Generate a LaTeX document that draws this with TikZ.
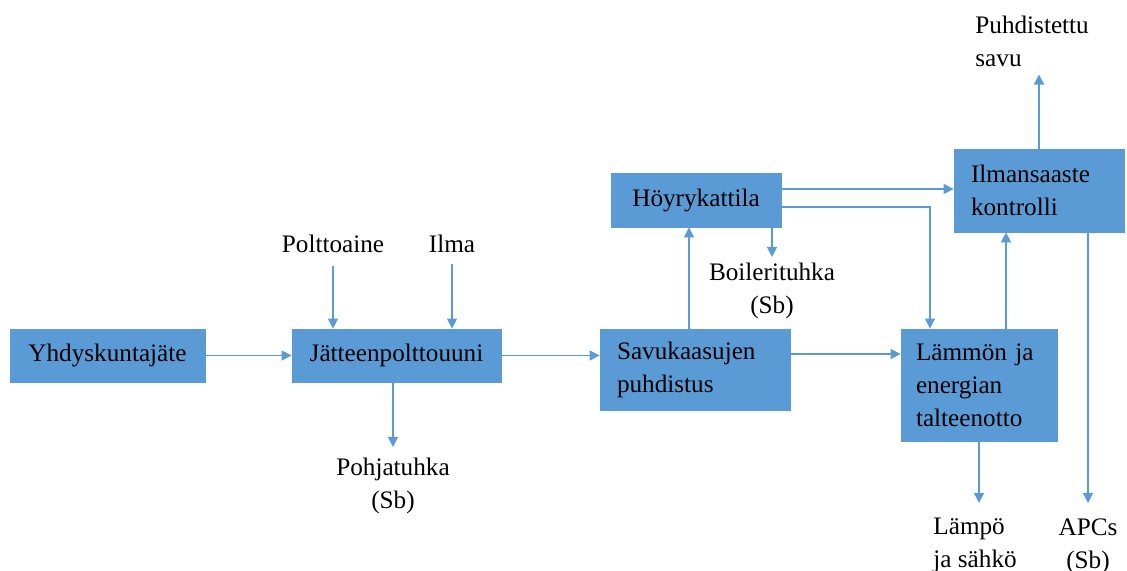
\documentclass[tikz,border=0pt]{standalone}
\usepackage{fontspec}
\setmainfont{Liberation Serif}
\usetikzlibrary{arrows.meta}
\definecolor{boxblue}{RGB}{91,155,213}
\begin{document}
\begin{tikzpicture}[x=0.5pt, y=-0.5pt]
		\tikzset{bx/.style={fill=boxblue, draw=boxblue, inner ysep=0pt, font=\fontsize{12.6}{16.5}\selectfont}};
		\tikzset{lb/.style={inner sep=0pt, font=\fontsize{12.6}{16.5}\selectfont}};
		\tikzset{ar/.style={draw=boxblue, line width=0.75pt, -{Triangle[length=5pt, width=5pt]}}};

		\useasboundingbox (0, 0) rectangle (1127, 571);

		\node[bx, minimum width=97.5pt, minimum height=26.5pt] (yhd) at (107.5, 355.5) {Yhdyskuntajäte};
		\node[bx, minimum width=104.5pt, minimum height=26.5pt] (jat) at (396.5, 355.5) {Jätteenpolttouuni};
		\node[bx, minimum height=40.5pt, inner xsep=8.5pt, text width=78pt, align=left] (savu) at (695, 369.5) {Savukaasujen\\puhdistus};
		\node[bx, minimum width=85pt, minimum height=27pt] (hoyry) at (696, 200) {Höyrykattila};
		\node[bx, minimum height=41.5pt, inner xsep=8.5pt, text width=68pt, align=left] (ilman) at (1039, 190.5) {Ilmansaaste\\kontrolli};
		\node[bx, minimum height=56pt, inner xsep=7.5pt, text width=63pt, align=left] (lammon) at (979, 385) {Lämmön ja\\energian\\talteenotto};

		\node[lb, anchor=base] (polt) at (333, 253) {Polttoaine};
		\node[lb, anchor=base] (ilma) at (452, 253) {Ilma};
		\node[lb, anchor=north, align=center] (pohja) at (393, 458) {Pohjatuhka\\(Sb)};
		\node[lb, anchor=north, align=center] (boil) at (772, 263) {Boilerituhka\\(Sb)};
		\node[lb, anchor=north west, align=left] (lampo) at (933, 518) {Lämpö\\ja sähkö};
		\node[lb, anchor=north, align=center] (apcs) at (1088, 518) {APCs\\(Sb)};
		\node[lb, anchor=north west, align=left] (puhd) at (975, 16) {Puhdistettu\\savu};

		\draw[ar] (yhd) -- (jat);

		\draw[ar, shorten <=6pt] (polt.south) -- (polt.south |- jat.north);
		\draw[ar, shorten <=5pt] (ilma.south) -- (ilma.south |- jat.north);

		\draw[ar, shorten >=5.5pt] (jat.south -| pohja.north) -- (pohja.north);
		\draw[ar] (jat.east) -- (jat.east -| savu.west);

		\draw[ar] ([xshift=-3pt]savu.north) -- ([xshift=-3pt]savu.north |- hoyry.south);
		\draw[ar] ([yshift=7.75pt]savu.east) -- ([yshift=7.75pt]savu.east -| lammon.west);

		\draw[ar, shorten >=3pt] (hoyry.south -| boil.north) -- (boil.north);
		\draw[ar] ([yshift=5.5pt]hoyry.east) -- ([yshift=5.5pt]hoyry.east -| ilman.west);
		\draw[ar] ([yshift=-3.5pt]hoyry.east) -| ([xshift=-24.5pt]lammon.north);

		\draw[ar] ([xshift=13.5pt]lammon.north) -- ([xshift=13.5pt]lammon.north |- ilman.south);
		\draw[ar, shorten >=7.5pt] (lammon.south) -- (lammon.south |- lampo.north);

		\draw[ar, shorten >=3.5pt] (ilman.north) -- (ilman.north |- puhd.south);
		\draw[ar, shorten >=7.5pt] (ilman.south -| apcs.north) -- (apcs.north);

	\end{tikzpicture}
\end{document}
